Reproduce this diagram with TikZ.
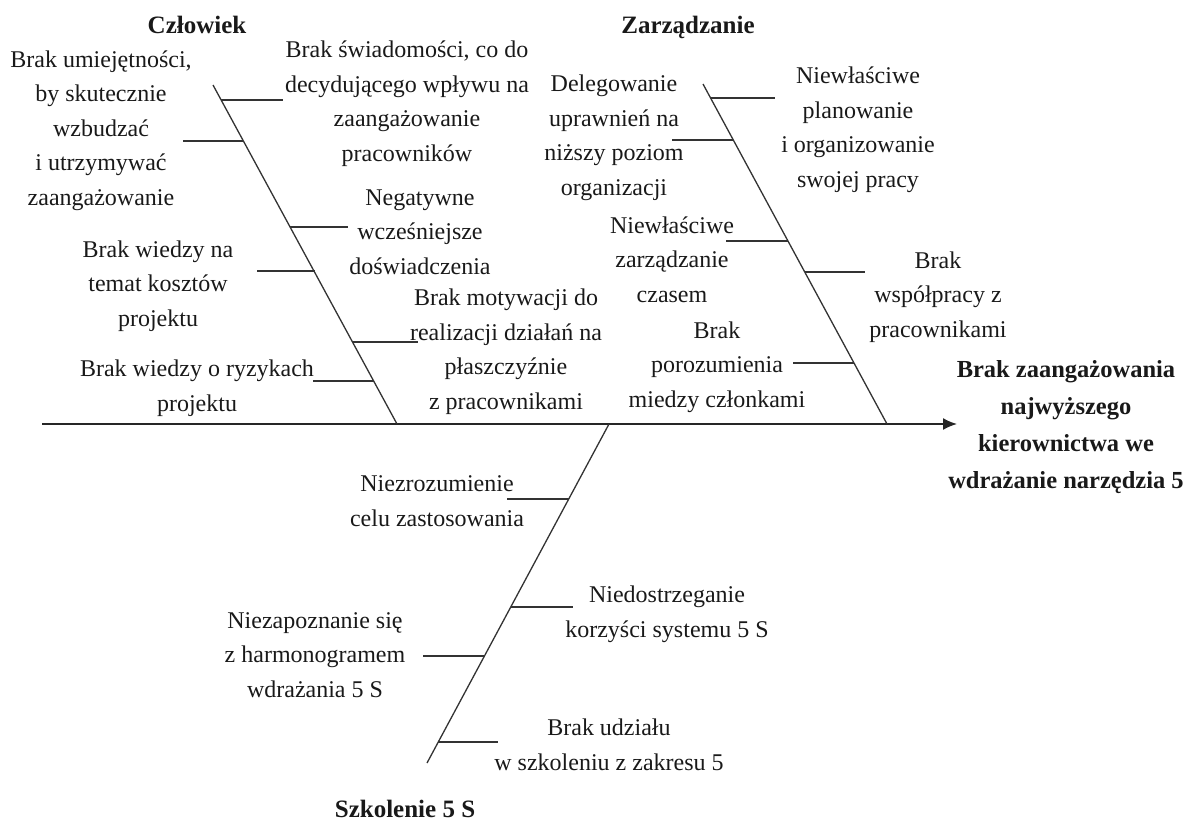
\documentclass[tikz,border=0pt]{standalone}
\usepackage{fontspec}
\setmainfont{Liberation Serif}
\usetikzlibrary{arrows.meta}
\tikzset{
  lbl/.style={font=\fontsize{24}{34.5}\selectfont, align=center, inner sep=0pt, anchor=base, text=black!90},
  headlbl/.style={font=\fontsize{25}{37}\selectfont\bfseries, align=center, inner sep=0pt, anchor=base, text=black!90},
  effectlbl/.style={font=\fontsize{24.5}{37}\selectfont\bfseries, align=center, inner sep=0pt, anchor=base, text=black!90},
  bone/.style={line width=1.3pt, draw=black!80},
  twig/.style={line width=1.3pt, draw=black!80},
  spine/.style={line width=1.7pt, draw=black!85, -{Latex[length=14pt,width=12pt]}},
}
\begin{document}
\begin{tikzpicture}[x=1pt,y=-1pt]
\useasboundingbox (0,0) rectangle (1187,823);

% spine
\coordinate (sL) at (42,424);
\coordinate (sR) at (957,424);
\draw[spine] (sL) -- (sR);

% main bones
\coordinate (cT) at (213,85);  \coordinate (cB) at (397,424);
\coordinate (zT) at (703,84);  \coordinate (zB) at (887,424);
\coordinate (sT) at (609,424); \coordinate (sB) at (427,763);
\draw[bone] (cT) -- (cB);
\draw[bone] (zT) -- (zB);
\draw[bone] (sT) -- (sB);

% Czlowiek twigs
\coordinate (c1a) at (221,100); \coordinate (c1b) at (283,100);
\coordinate (c2a) at (183,141); \coordinate (c2b) at (243,141);
\coordinate (c3a) at (290,227); \coordinate (c3b) at (348,227);
\coordinate (c4a) at (257,271); \coordinate (c4b) at (315,271);
\coordinate (c5a) at (353,342); \coordinate (c5b) at (418,342);
\coordinate (c6a) at (313,381); \coordinate (c6b) at (374,381);
\foreach \i in {1,...,6} \draw[twig] (c\i a) -- (c\i b);

% Zarzadzanie twigs
\coordinate (z1a) at (711,98);  \coordinate (z1b) at (775,98);
\coordinate (z2a) at (672,140); \coordinate (z2b) at (733,140);
\coordinate (z3a) at (726,241); \coordinate (z3b) at (788,241);
\coordinate (z4a) at (805,272); \coordinate (z4b) at (865,272);
\coordinate (z5a) at (793,363); \coordinate (z5b) at (854,363);
\foreach \i in {1,...,5} \draw[twig] (z\i a) -- (z\i b);

% Szkolenie twigs
\coordinate (s1a) at (507,499); \coordinate (s1b) at (569,499);
\coordinate (s2a) at (511,607); \coordinate (s2b) at (573,607);
\coordinate (s3a) at (423,656); \coordinate (s3b) at (484,656);
\coordinate (s4a) at (438,742); \coordinate (s4b) at (498,742);
\foreach \i in {1,...,4} \draw[twig] (s\i a) -- (s\i b);

% headings (anchor = baseline of last line)
\node[headlbl] (hC) at (197,33) {Człowiek};
\node[headlbl] (hZ) at (688,33) {Zarządzanie};
\node[headlbl] (hS) at (405,817) {Szkolenie 5 S};
\node[effectlbl] (eff) at (1066,488) {Brak zaangażowania\\najwyższego\\kierownictwa we\\wdrażanie narzędzia 5};

% Czlowiek labels
\node[lbl] (tC1) at (101,205) {Brak umiejętności,\\by skutecznie\\wzbudzać\\i utrzymywać\\zaangażowanie};
\node[lbl] (tC2) at (407,161) {Brak świadomości, co do\\decydującego wpływu na\\zaangażowanie\\pracowników};
\node[lbl] (tC3) at (420,274) {Negatywne\\wcześniejsze\\doświadczenia};
\node[lbl] (tC4) at (158,326) {Brak wiedzy na\\temat kosztów\\projektu};
\node[lbl] (tC5) at (506,409) {Brak motywacji do\\realizacji działań na\\płaszczyźnie\\z pracownikami};
\node[lbl] (tC6) at (197,411) {Brak wiedzy o ryzykach\\projektu};

% Zarzadzanie labels
\node[lbl] (tZ1) at (614,195) {Delegowanie\\uprawnień na\\niższy poziom\\organizacji};
\node[lbl] (tZ2) at (858,187) {Niewłaściwe\\planowanie\\i organizowanie\\swojej pracy};
\node[lbl] (tZ3) at (672,302) {Niewłaściwe\\zarządzanie\\czasem};
\node[lbl] (tZ4) at (938,337) {Brak\\współpracy z\\pracownikami};
\node[lbl] (tZ5) at (717,407) {Brak\\porozumienia\\miedzy członkami};

% Szkolenie labels
\node[lbl] (tS1) at (437,526) {Niezrozumienie\\celu zastosowania};
\node[lbl] (tS2) at (667,637) {Niedostrzeganie\\korzyści systemu 5 S};
\node[lbl] (tS3) at (315,697) {Niezapoznanie się\\z harmonogramem\\wdrażania 5 S};
\node[lbl] (tS4) at (609,770) {Brak udziału\\w szkoleniu z zakresu 5};
\end{tikzpicture}
\end{document}
